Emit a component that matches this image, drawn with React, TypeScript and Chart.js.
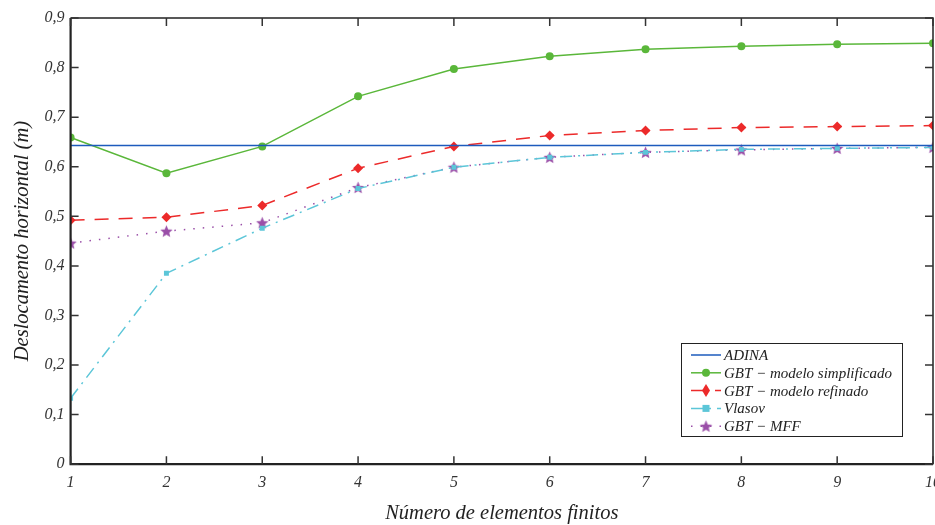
import React, { useEffect, useRef } from "react";
import { Chart, registerables } from "chart.js";
Chart.register(...registerables);

const elements = [1, 2, 3, 4, 5, 6, 7, 8, 9, 10];
const adina = [0.643, 0.643, 0.643, 0.643, 0.643, 0.643, 0.643, 0.643, 0.643, 0.643];
const gbtSimplificado = [0.659, 0.587, 0.641, 0.742, 0.797, 0.823, 0.837, 0.843, 0.847, 0.849];
const gbtRefinado = [0.492, 0.498, 0.522, 0.597, 0.641, 0.663, 0.673, 0.679, 0.681, 0.683];
const vlasov = [0.133, 0.385, 0.476, 0.556, 0.599, 0.619, 0.629, 0.635, 0.637, 0.639];
const gbtMFF = [0.446, 0.470, 0.487, 0.558, 0.599, 0.619, 0.629, 0.634, 0.637, 0.639];
const seriesLabels = ["ADINA", "GBT \u2212 modelo simplificado", "GBT \u2212 modelo refinado", "Vlasov", "GBT \u2212 MFF"];
const yTicks = [0, 0.1, 0.2, 0.3, 0.4, 0.5, 0.6, 0.7, 0.8, 0.9];

const FONT = "'Liberation Serif', 'DejaVu Serif', serif";

function makeStar(color: string, r: number) {
  const c = document.createElement("canvas");
  const s = Math.ceil(r * 2 + 2);
  c.width = s; c.height = s;
  const g = c.getContext("2d")!;
  g.fillStyle = color;
  g.beginPath();
  for (let i = 0; i < 10; i++) {
    const rad = i % 2 === 0 ? r : r * 0.45;
    const a = -Math.PI / 2 + (i * Math.PI) / 5;
    const x = s / 2 + rad * Math.cos(a);
    const y = s / 2 + 0.5 + rad * Math.sin(a);
    if (i === 0) g.moveTo(x, y); else g.lineTo(x, y);
  }
  g.closePath();
  g.fill();
  return c;
}

export default function App() {
  const ref = useRef<HTMLCanvasElement>(null);
  useEffect(() => {
    document.body.style.margin = "0";
    const star = makeStar("#9a4fa8", 6.5);
    const toPts = (arr: number[]) => arr.map((v, i) => ({ x: elements[i], y: v }));

    const framePlugin = {
      id: "frame",
      afterDatasetsDraw(chart: any) {
        const { ctx, chartArea: a, scales } = chart;
        const xs = scales.x, ys = scales.y;
        ctx.save();
        ctx.strokeStyle = "#222";
        ctx.lineWidth = 1.5;
        ctx.beginPath();
        ctx.moveTo(a.left, a.top); ctx.lineTo(a.right, a.top); ctx.lineTo(a.right, a.bottom);
        ctx.stroke();
        ctx.lineWidth = 2.2;
        ctx.beginPath();
        ctx.moveTo(a.left, a.top); ctx.lineTo(a.left, a.bottom); ctx.lineTo(a.right, a.bottom);
        ctx.stroke();
        ctx.lineWidth = 1.5;
        ctx.strokeStyle = "#333";
        const tl = 8;
        ctx.beginPath();
        elements.forEach((v) => {
          const px = xs.getPixelForValue(v);
          ctx.moveTo(px, a.bottom); ctx.lineTo(px, a.bottom - tl);
          ctx.moveTo(px, a.top); ctx.lineTo(px, a.top + tl);
        });
        yTicks.forEach((v) => {
          const py = ys.getPixelForValue(v);
          ctx.moveTo(a.left, py); ctx.lineTo(a.left + tl, py);
          ctx.moveTo(a.right, py); ctx.lineTo(a.right - tl, py);
        });
        ctx.stroke();

        // legend
        const lx = 681, ly = 343, lw = 221, lh = 93;
        ctx.fillStyle = "#fff";
        ctx.fillRect(lx, ly, lw, lh);
        ctx.strokeStyle = "#222";
        ctx.lineWidth = 1;
        ctx.strokeRect(lx + 0.5, ly + 0.5, lw, lh);
        ctx.font = `italic 15px ${FONT}`;
        ctx.textBaseline = "middle";
        chart.data.datasets.forEach((ds: any, i: number) => {
          const y = ly + 12 + i * 17.8;
          ctx.strokeStyle = ds.borderColor;
          ctx.lineWidth = ds.borderWidth;
          ctx.setLineDash(ds.borderDash || []);
          ctx.beginPath();
          ctx.moveTo(lx + 10, y); ctx.lineTo(lx + 40, y);
          ctx.stroke();
          ctx.setLineDash([]);
          const mx = lx + 25;
          const r = ds.pointRadius;
          if (r > 0) {
            ctx.fillStyle = ds.pointBackgroundColor;
            if (ds.pointStyle === "circle") {
              ctx.beginPath(); ctx.arc(mx, y, r, 0, Math.PI * 2); ctx.fill();
            } else if (ds.pointStyle === "rectRot") {
              ctx.beginPath();
              ctx.moveTo(mx, y - r * 1.3); ctx.lineTo(mx + r * 0.8, y); ctx.lineTo(mx, y + r * 1.3); ctx.lineTo(mx - r * 0.8, y);
              ctx.closePath(); ctx.fill();
            } else if (ds.pointStyle === "rect") {
              ctx.fillRect(mx - r, y - r, 2 * r, 2 * r);
            } else {
              ctx.drawImage(ds.pointStyle, mx - star.width / 2, y - star.height / 2);
            }
          }
          ctx.fillStyle = "#222";
          ctx.fillText(ds.label, lx + 43, y + 1);
        });
        ctx.restore();
      },
    };

    const chart = new Chart(ref.current!, {
      type: "line",
      data: {
        datasets: [
          { label: seriesLabels[0], data: toPts(adina), borderColor: "#1d5bbd", backgroundColor: "#1d5bbd", borderWidth: 1.5, pointRadius: 0, pointStyle: "circle", pointBackgroundColor: "#1d5bbd" },
          { label: seriesLabels[1], data: toPts(gbtSimplificado), borderColor: "#5ab73a", backgroundColor: "#5ab73a", borderWidth: 1.5, pointRadius: 4, pointStyle: "circle", pointBackgroundColor: "#5ab73a", pointBorderWidth: 0 },
          { label: seriesLabels[2], data: toPts(gbtRefinado), borderColor: "#ec2a2a", backgroundColor: "#ec2a2a", borderWidth: 1.5, borderDash: [14, 10], pointRadius: 5, pointStyle: "rectRot", pointBackgroundColor: "#ec2a2a", pointBorderWidth: 0 },
          { label: seriesLabels[3], data: toPts(vlasov), borderColor: "#5cc6d8", backgroundColor: "#5cc6d8", borderWidth: 1.5, borderDash: [12, 6, 2, 6], pointRadius: 3.5, pointStyle: "rect", pointBackgroundColor: "#5cc6d8", pointBorderWidth: 0 },
          { label: seriesLabels[4], data: toPts(gbtMFF), borderColor: "#9a4fa8", backgroundColor: "#9a4fa8", borderWidth: 1.5, borderDash: [1.5, 8], pointRadius: 5, pointStyle: star as any, pointBackgroundColor: "#9a4fa8", pointBorderWidth: 0 },
        ] as any,
      },
      options: {
        animation: false,
        responsive: false,
        layout: { padding: { top: 18, right: 0, bottom: 0, left: 10 } },
        plugins: { legend: { display: false }, tooltip: { enabled: false } },
        scales: {
          x: {
            type: "linear", min: 1, max: 10,
            grid: { display: false, drawTicks: false },
            border: { display: false },
            ticks: { stepSize: 1, padding: 9, color: "#333", font: { family: FONT, style: "italic", size: 16 } },
            title: { display: true, text: "N\u00famero de elementos finitos", color: "#222", padding: { top: 0, bottom: -1 }, font: { family: FONT, style: "italic", size: 20.5 } },
          },
          y: {
            min: 0, max: 0.9,
            grid: { display: false, drawTicks: false },
            border: { display: false },
            ticks: {
              stepSize: 0.1, padding: 6, color: "#333", font: { family: FONT, style: "italic", size: 16 },
              callback: (v: any) => (Number(v) === 0 ? "0" : Number(v).toFixed(1).replace(".", ",")),
            },
            title: { display: true, text: "Deslocamento horizontal (m)", color: "#222", padding: { top: 0, bottom: 4 }, font: { family: FONT, style: "italic", size: 20.5 } },
          },
        },
      },
      plugins: [framePlugin],
    });
    return () => chart.destroy();
  }, []);
  return (
    <div style={{ width: 935, height: 525, overflow: "hidden", position: "relative", background: "#fff" }}>
      <canvas ref={ref} width={950} height={525} style={{ display: "block" }} />
    </div>
  );
}
